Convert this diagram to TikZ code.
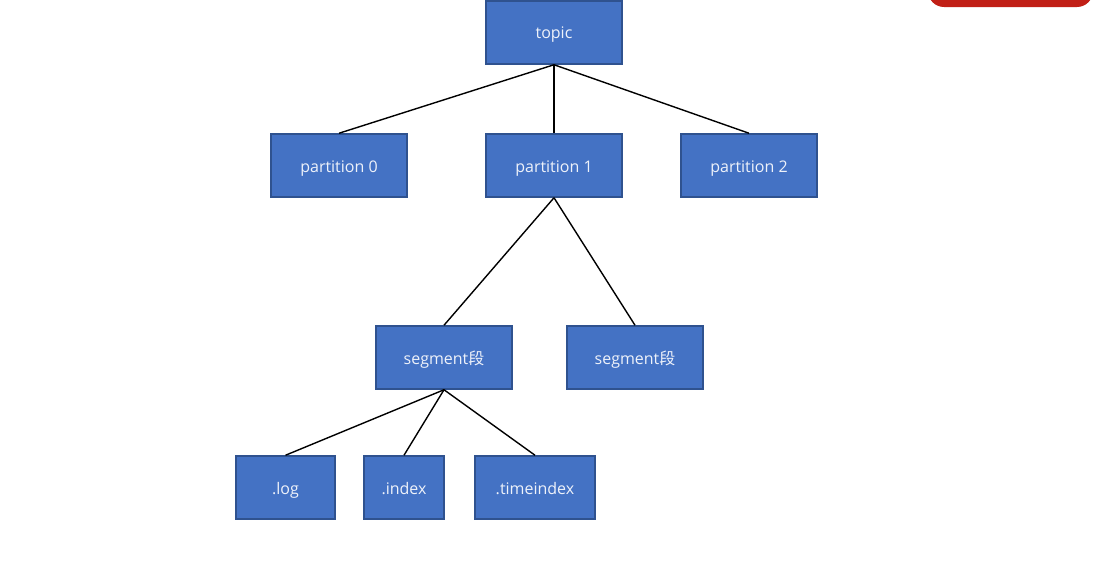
\documentclass[tikz,border=0pt]{standalone}
\usepackage{fontspec}
\setmainfont{Open Sans}
\newfontfamily\cjk{Noto Sans CJK SC}
\usepackage{xcolor}
\usepackage{tikz}
\usetikzlibrary{positioning}
\definecolor{BoxBlue}{HTML}{4472C4}
\definecolor{BoxEdge}{HTML}{2F528F}
\definecolor{BoxText}{HTML}{EEF2FA}
\definecolor{BadgeRed}{HTML}{C11F16}

\tikzset{
  filebox/.style={draw=BoxEdge,line width=.75pt,fill=BoxBlue,text=BoxText,
    font=\fontsize{8pt}{10pt}\selectfont,minimum height=31.5pt,inner sep=0pt,
    text height=8pt,text depth=1.5pt},
  link/.style={line width=.7pt,black}
}

\begin{document}
\begin{tikzpicture}[x=.5pt,y=-.5pt]
\useasboundingbox (0,0) rectangle (1118,562);
\begin{scope}
\clip (0,0) rectangle (1118,562);
\fill[BadgeRed,rounded corners=8pt] (928,-30) rectangle (1093,7);
\end{scope}
% tree of boxes
\node[filebox,minimum width=68pt] (topic) at (554,32.5) {topic};
\node[filebox,minimum width=68pt] (part0) at (339,165.5) {partition 0};
\node[filebox,minimum width=68pt] (part1) at (554,165.5) {partition 1};
\node[filebox,minimum width=68pt] (part2) at (749,165.5) {partition 2};
\node[filebox,minimum width=68pt] (seg1) at (444,357.5) {segment{\cjk 段}};
\node[filebox,minimum width=68pt] (seg2) at (635,357.5) {segment{\cjk 段}};
\node[filebox,minimum width=49.5pt] (log) at (285.5,487.5) {.log};
\node[filebox,minimum width=40pt] (index) at (404,487.5) {.index};
\node[filebox,minimum width=60pt] (timeindex) at (535,487.5) {.timeindex};
\foreach \n in {part0,part1,part2}{\draw[link] (topic.south) -- (\n.north);}
\foreach \n in {seg1,seg2}{\draw[link] (part1.south) -- (\n.north);}
\foreach \n in {log,index,timeindex}{\draw[link] (seg1.south) -- (\n.north);}
\end{tikzpicture}
\end{document}
